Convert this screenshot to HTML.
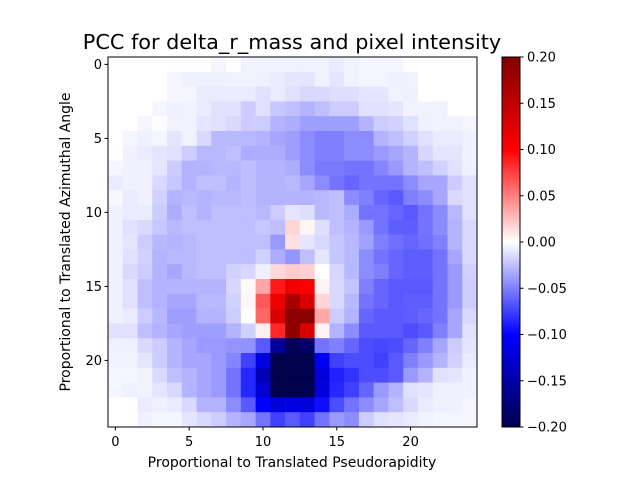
<!DOCTYPE html>
<html><head><meta charset="utf-8"><style>
body{margin:0;background:#fff;}
svg{display:block;font-family:"DejaVu Sans","Liberation Sans",sans-serif;}
</style></head><body>
<svg id="chart" width="640" height="480" viewBox="0 0 640 480" xmlns="http://www.w3.org/2000/svg">
<defs>
<linearGradient id="cbgrad" x1="0" y1="1" x2="0" y2="0">
<stop offset="0" stop-color="rgb(0,0,77)"/>
<stop offset="0.25" stop-color="rgb(0,0,255)"/>
<stop offset="0.5" stop-color="rgb(255,255,255)"/>
<stop offset="0.75" stop-color="rgb(255,0,0)"/>
<stop offset="1" stop-color="rgb(128,0,0)"/>
</linearGradient>
</defs>
<text x="292" y="49" font-size="20.8" text-anchor="middle">PCC for delta_r_mass and pixel intensity</text>
<g id="cells"></g>
<rect x="108" y="57" width="369" height="370" fill="none" stroke="#000" stroke-width="1"/>
<g id="axes"></g>
<text x="292" y="467" font-size="14" text-anchor="middle">Proportional to Translated Pseudorapidity</text>
<text transform="translate(70,242) rotate(-90)" font-size="14" text-anchor="middle">Proportional to Translated Azimuthal Angle</text>
<rect x="502" y="57" width="18" height="370" fill="url(#cbgrad)" stroke="#000" stroke-width="1"/>
<g id="cbaxis"></g>
</svg>
<script>
// values in hundredths (x0.01)
const rows = [
[0,0,0,0,0,0,0,-0.4,0,-0.5,-0.5,-0.5,-0.5,-0.5,-0.5,-0.8,-0.5,-0.4,-0.4,-0.4,0,0,0,0,0],
[0,0,0,0,-0.4,-0.6,-0.6,-0.6,-0.5,-0.5,-0.6,-0.8,-1,-1,-0.5,-1,-0.5,-0.4,-0.4,-0.6,-0.5,0,0,0,0],
[0,0,0,0,-0.4,-0.4,-0.8,-0.8,-0.8,-0.8,-1.2,-0.8,-1.2,-1.5,-1.5,-1.3,-1.3,-1,-1,-0.5,-0.6,0,0,0,0],
[0,0,0,-0.4,-0.6,-0.5,-0.8,-1.2,-1.2,-2,-1.2,-2.2,-2.5,-3,-2.5,-2,-2,-1.2,-1.2,-1,-0.5,-0.5,-0.5,0,0],
[0,0,-0.4,-0.1,-0.5,-0.5,-1,-1.2,-1.5,-2,-2,-3,-3.2,-3.8,-3.8,-3.8,-3.8,-3,-2,-1.8,-1.2,-0.6,-0.5,-0.5,-0.4],
[0,-0.4,-0.6,-0.4,-1,-0.5,-1.5,-2.8,-2.8,-2.8,-3,-3.5,-3.8,-4.5,-5,-5,-4.5,-4.5,-3,-2.5,-1.8,-1.2,-0.8,-0.8,-0.6],
[0,-0.6,-0.8,-1,-1.2,-2,-2.8,-2.8,-2.5,-3.2,-3.2,-3.2,-3.8,-4.5,-5,-5,-4.5,-4.5,-4,-3.5,-3,-1.6,-1,-1,-0.6],
[-0.4,-0.6,-0.6,-1,-2,-3,-3,-2.8,-2.8,-2.5,-3,-3,-3.2,-4.5,-5.2,-5.2,-5.5,-5.5,-4.8,-4,-3,-2.5,-1.8,-1.2,-0.6],
[-0.8,-0.6,-0.6,-1.5,-2.2,-3,-2.5,-2.5,-3,-2.5,-3,-3,-2.8,-3.5,-4.5,-5.5,-6,-5.5,-5.5,-5.5,-4.5,-3.5,-3.5,-2,-1.2],
[-0.3,-0.8,-0.6,-1.8,-3,-2.8,-3,-2.8,-2.8,-2.5,-3,-3,-3,-3,-2.8,-2.5,-4.5,-5,-6,-6.5,-5,-4.5,-3.5,-1.5,-1.2],
[-0.6,-0.8,-0.8,-2,-3.2,-2.5,-3,-2.5,-2.5,-2.5,-2.8,-2,-1,-1.3,-2.8,-2.5,-3.2,-5.5,-5.5,-6,-6.5,-5.5,-4.5,-2.8,-1.2],
[-0.6,-1.2,-1.5,-2.2,-2.8,-2.5,-2.5,-2.5,-2.5,-2.5,-2.2,-2.5,1.6,0.4,-1.3,-2.5,-3,-4,-5.5,-6.3,-6.3,-5.5,-4.5,-3,-1.5],
[-0.6,-1,-2,-2.8,-3,-2.8,-2.5,-2.5,-2.5,-2.5,-2.5,-4,1.2,-1,-1.5,-2.2,-2.8,-3.7,-5,-5.6,-6,-5.6,-5,-3,-1.5],
[-0.6,-1.2,-1.8,-3,-2.8,-2.8,-2.5,-2.5,-2.5,-2.5,-1.8,-3.2,-4.2,-2.5,-1,-2.2,-2.8,-4.5,-5.5,-6,-6.3,-6.3,-5.5,-3.5,-1.5],
[-0.6,-1.5,-2,-3,-3.5,-2.8,-2.5,-2.5,-1.8,-1.6,-0.6,1.5,2,1.8,0,-1.6,-2.8,-4.5,-5,-6,-6.3,-6.3,-5.5,-4,-1.8],
[-0.6,-1.2,-2.5,-3,-3,-3,-3,-3,-1.6,0.2,3.5,9,11,10.2,0.5,-1.5,-2.3,-5,-6,-6.5,-6.5,-6.5,-5.5,-4,-2],
[-0.6,-1.2,-2.5,-3,-3.5,-3.5,-2.8,-2.8,-1.8,0.3,6.5,11.5,17,13,1.7,-1.5,-2.8,-5.5,-6,-6.5,-6.3,-6.3,-5.5,-4,-2],
[-0.6,-0.8,-2,-2.8,-3.8,-3.8,-3,-3,-2,0,6,13,19,19,3.5,-2,-3,-6,-6.5,-6.5,-6.3,-6,-5.5,-3.5,-1.5],
[-1.2,-1.2,-2.5,-3,-3.5,-3.8,-3.8,-3.8,-3,-1.8,0.6,8.5,19,13,0.5,-3,-4.5,-6.5,-6.5,-6.5,-7,-6.5,-5,-3.5,-1.2],
[-0.6,-0.6,-1.5,-2,-3,-3.5,-4,-4,-4.2,-4.3,-6.5,-15.5,-19.5,-18.5,-5.5,-5,-6,-7,-7.2,-7,-6,-5,-3.5,-2,-1],
[-0.5,-0.5,-1,-2,-3,-3.5,-3.5,-4,-4.8,-7.5,-11.5,-20,-20,-20,-10.5,-7.5,-7,-7,-7.5,-6.5,-5,-4,-3,-1.8,-0.8],
[-0.4,-0.4,-0.5,-1.5,-2.5,-3,-3.5,-4,-5.5,-8.5,-14,-20,-20,-20,-12,-8.8,-8,-7,-7,-6.5,-4,-3,-1.2,-1,-0.6],
[-0.4,-0.6,-0.5,-1,-1.5,-3,-3.5,-4,-5.5,-8.5,-12.5,-20,-20,-20,-12,-8.5,-7.5,-6,-4,-3,-1.2,-1,-0.6,-0.6,-0.6],
[0,0,-0.8,-0.6,-0.8,-1.5,-3,-3,-4.5,-6.5,-10,-12,-11.5,-12,-9.5,-7,-5.5,-4.5,-3.5,-2.5,-1.5,-0.8,-0.6,-0.6,-0.4],
[0,0,-0.6,-0.4,-0.4,-1,-1.5,-2,-3,-3.5,-5.5,-7.5,-6.5,-7.5,-5.5,-4,-4.5,-2,-1.2,-1,-0.8,-0.5,-0.4,-0.4,-0.4]
];
const xTicks = [0,5,10,15,20];
const yTicks = [0,5,10,15,20];
const cbTicks = [-0.20,-0.15,-0.10,-0.05,0.00,0.05,0.10,0.15,0.20];
const vmin = -0.2, vmax = 0.2;

const NS = "http://www.w3.org/2000/svg";
const X0 = 108, Y0 = 57, W = 369, H = 370;
const nC = rows[0].length, nR = rows.length;
const cw = W / nC, ch = H / nR;
const xPos = i => X0 + (i + 0.5) * cw;
const yPos = j => Y0 + (j + 0.5) * ch;

function seismic(v) {
  let s = (v - vmin) / (vmax - vmin); s = Math.max(0, Math.min(1, s));
  const stops = [[0,0,0,77],[0.25,0,0,255],[0.5,255,255,255],[0.75,255,0,0],[1,128,0,0]];
  for (let k = 0; k < 4; k++) {
    const a = stops[k], b = stops[k+1];
    if (s <= b[0]) {
      const t = (s - a[0]) / (b[0] - a[0]);
      return `rgb(${Math.round(a[1]+(b[1]-a[1])*t)},${Math.round(a[2]+(b[2]-a[2])*t)},${Math.round(a[3]+(b[3]-a[3])*t)})`;
    }
  }
  return "rgb(128,0,0)";
}
function mk(tag, attrs, parent) {
  const e = document.createElementNS(NS, tag);
  for (const k in attrs) e.setAttribute(k, attrs[k]);
  parent.appendChild(e); return e;
}
const cells = document.getElementById("cells");
rows.forEach((row, j) => row.forEach((v, i) => {
  const r = mk("rect", {x: (X0 + i*cw).toFixed(2), y: (Y0 + j*ch).toFixed(2), width: (cw+0.3).toFixed(2), height: (ch+0.3).toFixed(2), fill: seismic(v*0.01)}, cells);
  
  
}));
const axes = document.getElementById("axes");
xTicks.forEach(t => {
  const x = xPos(t);
  const l = mk("line", {x1:x, y1:Y0+H, x2:x, y2:Y0+H+3.5, stroke:"#000"}, axes);
  
  
  const tx = mk("text", {x:x, y:Y0+H+19, "font-size":13, "text-anchor":"middle"}, axes);
  tx.textContent = t;
  
  
});
yTicks.forEach(t => {
  const y = yPos(t);
  const l = mk("line", {x1:X0, y1:y, x2:X0-3.5, y2:y, stroke:"#000"}, axes);
  
  
  const tx = mk("text", {x:X0-6, y:y+4.5, "font-size":13, "text-anchor":"end"}, axes);
  tx.textContent = t;
  
  
});
const cb = document.getElementById("cbaxis");
cbTicks.forEach(t => {
  const y = Y0 + H - (t - vmin) / (vmax - vmin) * H;
  const l = mk("line", {x1:520, y1:y, x2:523.5, y2:y, stroke:"#000"}, cb);
  
  
  const tx = mk("text", {x:527, y:y+4.5, "font-size":13}, cb);
  tx.textContent = (t < 0 ? "\u2212" : "") + Math.abs(t).toFixed(2);
  
  
});
</script>
</body></html>
